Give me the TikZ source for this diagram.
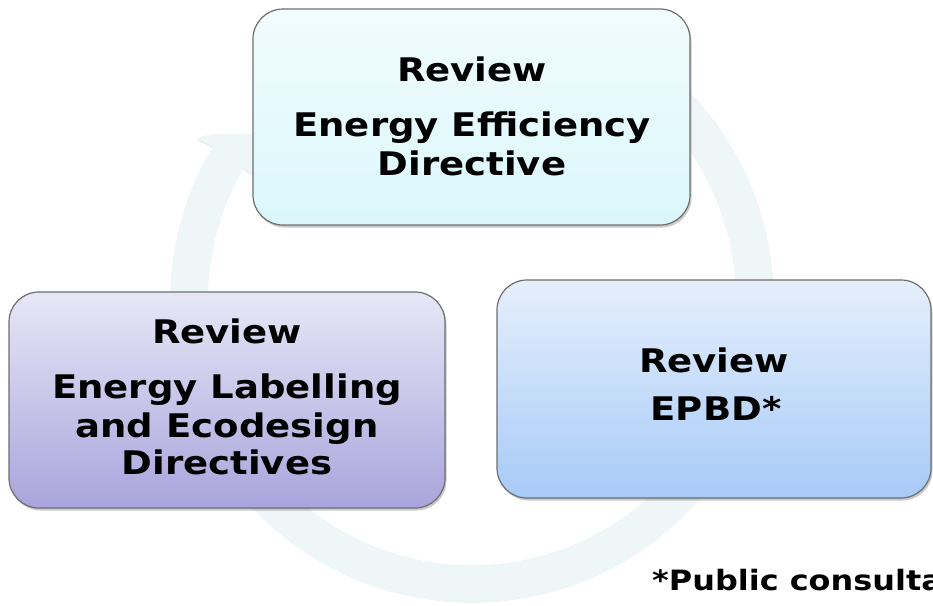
\documentclass[tikz,border=0pt]{standalone}
\usepackage{fontspec}
\setmainfont{DejaVu Sans}[FakeStretch=1.14]
\usetikzlibrary{shadows}
\definecolor{ringc}{HTML}{EEF6F8}
\definecolor{ringsh}{HTML}{C9CFD2}
\definecolor{bordc}{HTML}{6E6E6E}
\definecolor{topA}{HTML}{F1FCFE}
\definecolor{topB}{HTML}{DBF7FB}
\definecolor{leftA}{HTML}{E8E7F7}
\definecolor{leftB}{HTML}{A9A4DC}
\definecolor{rightA}{HTML}{E5EFFC}
\definecolor{rightB}{HTML}{A7CAF7}
\begin{document}
\begin{tikzpicture}[x=1pt,y=-1pt,
  box/.style={draw=bordc, line width=1.2pt, rounded corners=30pt, inner sep=0pt,
    drop shadow={shadow xshift=1.5pt, shadow yshift=-2.5pt, opacity=0.35, fill=black!60}},
  txt/.style={font=\fontsize{32.5}{38}\selectfont\bfseries, inner sep=0pt, anchor=base, text=black},
  note/.style={font=\fontsize{28}{34}\selectfont\bfseries, inner sep=0pt, anchor=base west, text=black},
  ring/.style={draw=ringc, line width=37pt}]
\useasboundingbox (0,0) rectangle (933,605);
\clip (0,0) rectangle (933,605);
\fill[white] (0,0) rectangle (933,605);
% circular arrow
\coordinate (cc) at (472,301);
\begin{scope}[shift={(1.2,2)}, opacity=0.45]
  \draw[draw=ringsh, line width=37pt] ([shift={(-60:283)}]cc) arc[start angle=-60, end angle=210.8, radius=283];
  \fill[ringsh] (212,146) -- (196,138) -- (212,134) -- (275,134) -- (275,185) -- (250,173) -- (243,168) -- cycle;
\end{scope}
\draw[ring] ([shift={(-60:283)}]cc) arc[start angle=-60, end angle=210.8, radius=283];
\fill[ringc] (212,146) -- (196,138) -- (212,134) -- (275,134) -- (275,185) -- (250,173) -- (243,168) -- cycle;
% boxes
\node[box, top color=topA, bottom color=topB, minimum width=437pt, minimum height=216pt] (bt) at (471.5,117) {};
\node[box, top color=leftA, bottom color=leftB, minimum width=436pt, minimum height=216pt] (bl) at (227,400) {};
\node[box, top color=rightA, bottom color=rightB, minimum width=434pt, minimum height=218pt] (br) at (714,389) {};
% texts
\node[txt] (t1) at (472,81) {Review};
\node[txt] (t2) at (472,136) {Energy Efficiency};
\node[txt] (t3) at (472,175) {Directive};
\node[txt] (l1) at (227,343) {Review};
\node[txt] (l2) at (227,398) {Energy Labelling};
\node[txt] (l3) at (227,437) {and Ecodesign};
\node[txt] (l4) at (227,474) {Directives};
\node[txt] (r1) at (714,372) {Review};
\node[txt] (r2) at (716,420) {EPBD*};
\node[note] (fn) at (652,590) {*Public consultation};
\end{tikzpicture}
\end{document}
